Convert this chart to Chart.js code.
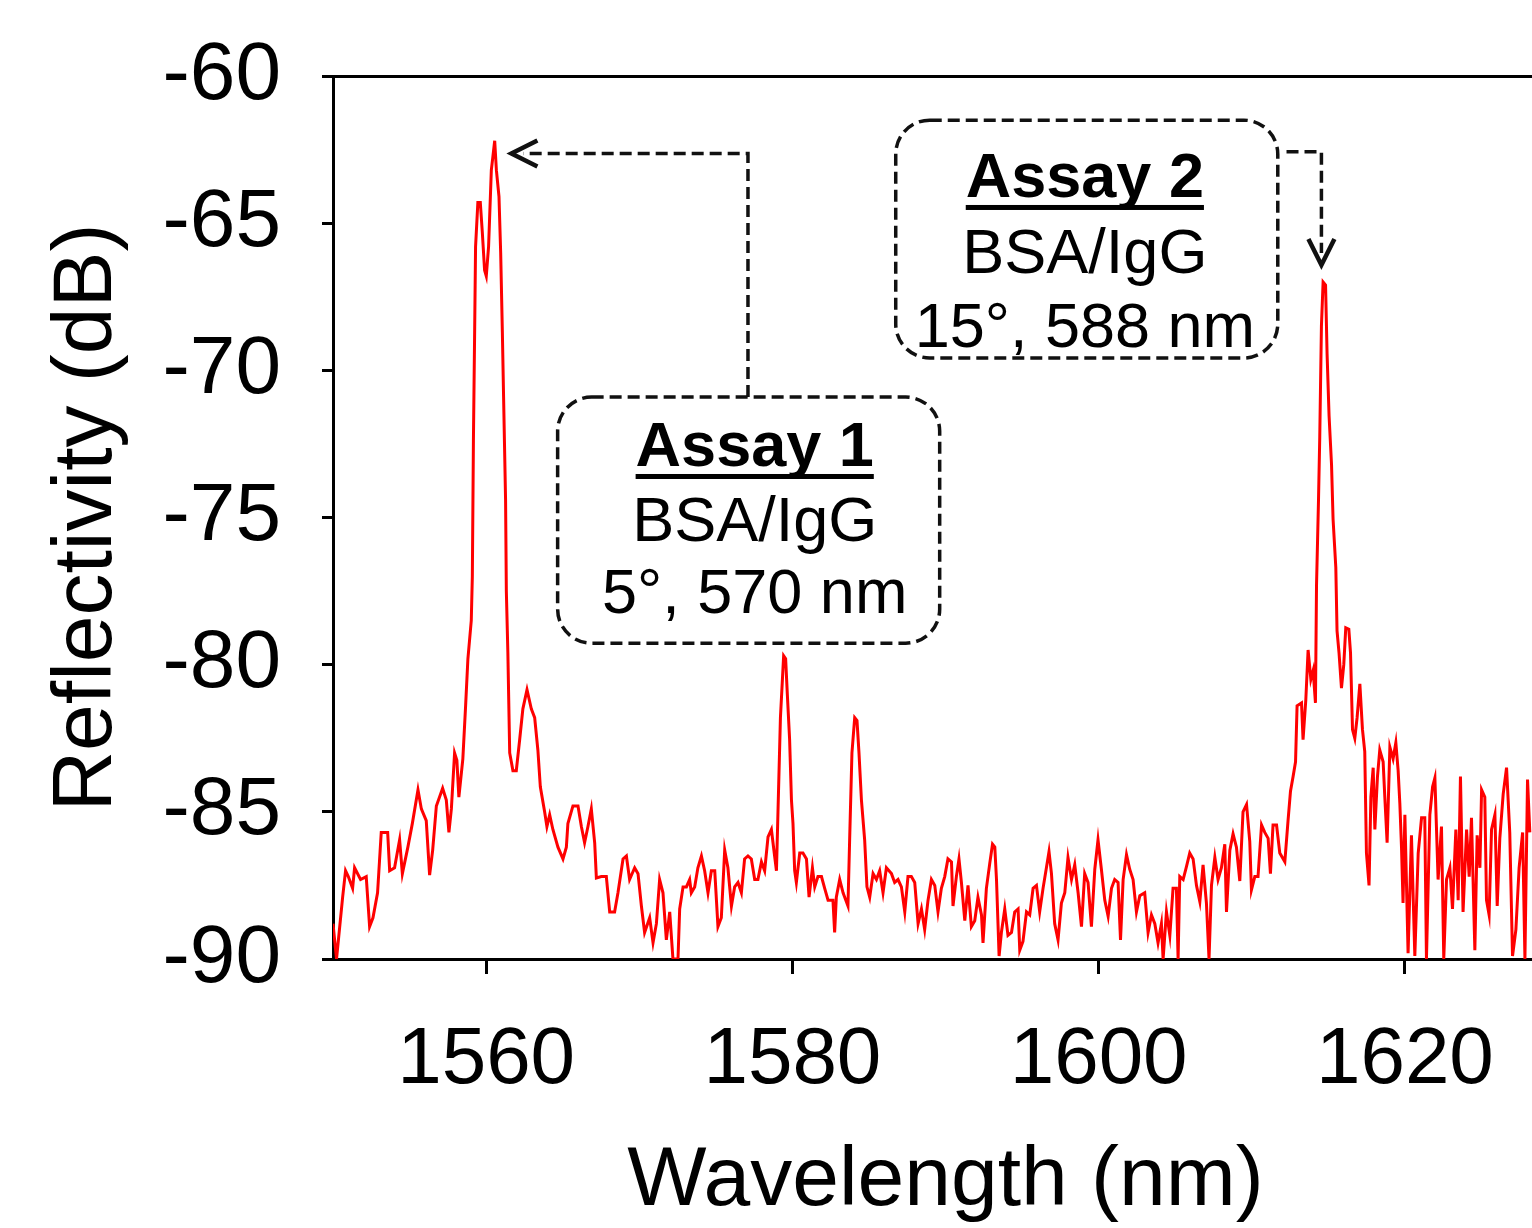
<!DOCTYPE html>
<html>
<head>
<meta charset="utf-8">
<title>Reflectivity spectrum</title>
<script src="https://cdn.jsdelivr.net/npm/chart.js@4.4.1/dist/chart.umd.min.js"></script>
<style>
  html, body { margin: 0; padding: 0; background: #fff; overflow: hidden; }
  #wrap { width: 1532px; height: 1228px; overflow: hidden; }
  canvas { display: block; }
</style>
</head>
<body>
<div id="wrap"><canvas id="spectrum" width="1558" height="1228"></canvas></div>
<script>
// wavelength (nm) / reflectivity (dB)
const wavelength = [
  1550.00, 1550.23, 1550.63, 1550.82, 1551.00, 1551.28, 1551.41, 1551.80, 1552.17, 1552.39,
  1552.61, 1552.91, 1553.15, 1553.57, 1553.70, 1554.02, 1554.35, 1554.53, 1554.89, 1555.18,
  1555.55, 1555.77, 1556.09, 1556.31, 1556.51, 1556.75, 1557.16, 1557.40, 1557.57, 1557.73,
  1557.94, 1558.09, 1558.22, 1558.48, 1558.66, 1558.81, 1559.03, 1559.10, 1559.17, 1559.25,
  1559.31, 1559.46, 1559.62, 1559.75, 1559.90, 1560.01, 1560.16, 1560.34, 1560.44, 1560.56,
  1560.67, 1560.84, 1560.95, 1561.06, 1561.14, 1561.27, 1561.32, 1561.42, 1561.54, 1561.75,
  1561.97, 1562.19, 1562.40, 1562.67, 1562.95, 1563.17, 1563.38, 1563.54, 1563.82, 1563.97,
  1564.15, 1564.36, 1564.69, 1565.02, 1565.24, 1565.34, 1565.67, 1566.00, 1566.22, 1566.43,
  1566.65, 1566.87, 1567.09, 1567.20, 1567.52, 1567.85, 1568.07, 1568.39, 1568.61, 1568.94,
  1569.16, 1569.37, 1569.70, 1569.92, 1570.14, 1570.35, 1570.68, 1570.90, 1571.12, 1571.33,
  1571.55, 1571.77, 1571.99, 1572.20, 1572.53, 1572.64, 1572.86, 1573.08, 1573.29, 1573.40,
  1573.62, 1573.83, 1574.06, 1574.27, 1574.49, 1574.71, 1574.93, 1575.14, 1575.36, 1575.58,
  1575.79, 1576.02, 1576.23, 1576.45, 1576.67, 1576.88, 1577.10, 1577.32, 1577.54, 1577.75,
  1577.98, 1578.19, 1578.41, 1578.63, 1578.84, 1578.96, 1579.06, 1579.22, 1579.35, 1579.43,
  1579.56, 1579.67, 1579.82, 1579.94, 1580.04, 1580.15, 1580.26, 1580.48, 1580.69, 1580.92,
  1581.09, 1581.31, 1581.46, 1581.67, 1581.90, 1582.11, 1582.33, 1582.65, 1582.76, 1582.87,
  1583.09, 1583.31, 1583.63, 1583.74, 1583.89, 1584.07, 1584.22, 1584.35, 1584.51, 1584.72,
  1584.87, 1585.05, 1585.27, 1585.49, 1585.70, 1585.92, 1586.14, 1586.47, 1586.68, 1586.90,
  1587.12, 1587.34, 1587.55, 1587.77, 1587.99, 1588.21, 1588.43, 1588.64, 1588.86, 1589.08,
  1589.30, 1589.51, 1589.73, 1589.95, 1590.16, 1590.39, 1590.49, 1590.71, 1590.88, 1591.04,
  1591.26, 1591.47, 1591.69, 1591.91, 1592.12, 1592.35, 1592.45, 1592.67, 1592.89, 1593.07,
  1593.22, 1593.33, 1593.50, 1593.65, 1593.87, 1594.08, 1594.31, 1594.52, 1594.74, 1594.85,
  1595.06, 1595.29, 1595.50, 1595.72, 1595.94, 1596.15, 1596.37, 1596.59, 1596.76, 1596.92,
  1597.13, 1597.35, 1597.57, 1597.79, 1598.00, 1598.23, 1598.44, 1598.66, 1598.88, 1599.09,
  1599.31, 1599.53, 1599.75, 1599.96, 1600.18, 1600.40, 1600.62, 1600.84, 1601.05, 1601.27,
  1601.43, 1601.60, 1601.82, 1602.03, 1602.25, 1602.47, 1602.69, 1603.01, 1603.23, 1603.45,
  1603.67, 1603.88, 1604.10, 1604.21, 1604.43, 1604.65, 1604.86, 1605.08, 1605.19, 1605.30,
  1605.52, 1605.74, 1605.95, 1606.17, 1606.39, 1606.61, 1606.82, 1607.04, 1607.21, 1607.37,
  1607.59, 1607.80, 1608.02, 1608.24, 1608.35, 1608.57, 1608.78, 1609.00, 1609.22, 1609.43,
  1609.66, 1609.87, 1609.98, 1610.20, 1610.41, 1610.64, 1610.85, 1611.07, 1611.22, 1611.39,
  1611.62, 1611.83, 1612.16, 1612.37, 1612.53, 1612.70, 1612.86, 1612.96, 1613.25, 1613.35,
  1613.53, 1613.68, 1613.86, 1614.01, 1614.16, 1614.23, 1614.36, 1614.44, 1614.55, 1614.66,
  1614.82, 1614.92, 1615.05, 1615.21, 1615.31, 1615.49, 1615.57, 1615.70, 1615.86, 1616.01,
  1616.14, 1616.34, 1616.45, 1616.58, 1616.73, 1616.88, 1617.06, 1617.23, 1617.38, 1617.49,
  1617.66, 1617.78, 1617.93, 1618.04, 1618.21, 1618.36, 1618.58, 1618.69, 1618.84, 1619.02,
  1619.23, 1619.41, 1619.56, 1619.67, 1619.78, 1619.88, 1620.00, 1620.21, 1620.43, 1620.65,
  1620.87, 1621.09, 1621.30, 1621.41, 1621.63, 1621.81, 1621.96, 1622.17, 1622.39, 1622.54,
  1622.72, 1622.94, 1623.11, 1623.33, 1623.48, 1623.63, 1623.80, 1624.03, 1624.20, 1624.35,
  1624.57, 1624.72, 1624.90, 1625.01, 1625.22, 1625.33, 1625.50, 1625.66, 1625.88, 1626.03,
  1626.20, 1626.42, 1626.64, 1626.85, 1627.03, 1627.25, 1627.46, 1627.69, 1627.84, 1628.01,
  1628.16
];
const reflectivity = [
  -88.8, -90.0, -87.9, -87.0, -87.2, -87.6, -86.9, -87.3, -87.2, -88.9,
  -88.6, -87.75, -85.7, -85.7, -87.0, -86.9, -85.95, -87.1, -86.2, -85.4,
  -84.25, -84.9, -85.3, -87.15, -86.3, -84.8, -84.2, -84.6, -85.7, -84.9,
  -83.0, -83.25, -84.5, -83.2, -81.4, -79.8, -78.5, -77.0, -72.4, -68.7,
  -65.8, -64.3, -64.3, -65.3, -66.6, -66.8, -65.8, -63.2, -62.75, -62.2,
  -63.2, -64.1, -66.0, -68.7, -70.9, -74.4, -77.5, -79.6, -83.0, -83.6,
  -83.6, -82.55, -81.5, -80.85, -81.5, -81.8, -82.9, -84.15, -85.0, -85.5,
  -85.1, -85.6, -86.2, -86.6, -86.2, -85.4, -84.8, -84.8, -85.5, -86.05,
  -85.5, -84.9, -86.05, -87.25, -87.2, -87.2, -88.4, -88.4, -87.75, -86.6,
  -86.5, -87.3, -86.9, -87.1, -88.2, -89.1, -88.6, -89.45, -88.8, -87.3,
  -87.75, -89.35, -88.4, -90.0, -90.0, -88.3, -87.55, -87.55, -87.3, -87.75,
  -87.55, -86.9, -86.5, -87.0, -87.75, -87.0, -87.0, -88.9, -88.6, -86.3,
  -86.9, -88.2, -87.55, -87.4, -87.75, -86.6, -86.5, -86.6, -87.3, -87.3,
  -86.7, -87.0, -85.85, -85.6, -86.5, -87.0, -85.0, -81.8, -80.5, -79.7,
  -79.8, -81.0, -82.55, -84.6, -85.4, -87.0, -87.4, -86.4, -86.4, -86.6,
  -87.9, -86.9, -87.55, -87.2, -87.2, -87.6, -88.0, -88.0, -89.1, -87.9,
  -87.3, -87.75, -88.2, -85.95, -83.0, -81.8, -81.9, -83.0, -84.6, -85.95,
  -87.55, -87.9, -87.1, -87.3, -87.0, -87.75, -86.9, -87.1, -87.4, -87.3,
  -87.55, -88.4, -87.2, -87.2, -87.4, -88.8, -88.3, -89.0, -88.0, -87.3,
  -87.5, -88.4, -87.6, -87.2, -86.6, -86.7, -88.2, -87.2, -86.6, -87.4,
  -88.7, -87.5, -88.9, -88.7, -87.9, -88.5, -89.45, -87.6, -86.75, -86.1,
  -86.2, -87.3, -89.9, -89.1, -88.3, -89.2, -89.1, -88.4, -88.3, -89.7,
  -89.4, -88.4, -88.5, -87.6, -87.5, -88.4, -87.6, -86.9, -86.35, -87.1,
  -88.8, -89.35, -88.1, -87.75, -86.55, -87.3, -86.8, -87.75, -88.9, -87.1,
  -87.4, -88.9, -86.95, -85.95, -86.95, -88.0, -88.55, -87.6, -87.3, -87.4,
  -89.35, -87.3, -86.45, -86.95, -87.3, -88.4, -87.85, -87.75, -89.1, -88.5,
  -88.8, -89.45, -88.8, -90.0, -88.4, -89.2, -87.6, -87.6, -90.0, -87.2,
  -87.3, -86.85, -86.4, -86.6, -87.5, -88.05, -86.8, -88.1, -90.0, -87.5,
  -86.55, -87.3, -86.9, -86.1, -88.4, -86.3, -85.75, -86.2, -87.35, -85.0,
  -84.75, -86.0, -87.65, -87.2, -87.2, -85.45, -85.7, -85.9, -87.1, -85.45,
  -85.45, -86.4, -86.7, -85.3, -84.3, -83.8, -83.3, -81.4, -81.3, -82.55,
  -81.2, -79.5, -80.5, -80.2, -81.3, -77.3, -74.4, -72.3, -68.5, -67.0,
  -67.1, -69.45, -71.55, -73.2, -75.05, -76.7, -78.85, -79.6, -80.8, -80.0,
  -78.75, -78.8, -79.6, -82.2, -82.5, -81.8, -80.65, -82.2, -82.95, -86.4,
  -87.5, -84.5, -83.5, -85.6, -83.8, -82.9, -83.3, -84.5, -86.05, -82.8,
  -83.2, -82.65, -83.6, -84.7, -86.2, -88.1, -85.1, -89.8, -85.8, -89.9,
  -86.4, -85.2, -85.2, -90.0, -85.1, -84.15, -83.85, -87.3, -85.5, -90.0,
  -87.3, -86.9, -88.3, -85.6, -88.0, -83.8, -88.4, -85.6, -87.2, -85.2,
  -89.7, -85.8, -86.9, -84.25, -84.5, -88.0, -88.5, -85.6, -85.1, -88.2,
  -85.9, -84.4, -83.5, -85.7, -89.9, -89.0, -86.9, -85.7, -90.0, -83.9,
  -85.7
];
const xTicks = [1560, 1580, 1600, 1620];
const yTicks = [-90, -85, -80, -75, -70, -65, -60];

const FONT = '"Liberation Sans", Arial, Helvetica, sans-serif';

// call-out boxes and arrows, placed in data units
const boxes = [
  { left: 1564.67, right: 1589.62, top: -70.91, bottom: -79.27, cx: 1577.54,
    lines: [['Assay 1', -73.25, true], ['BSA/IgG', -75.80, false], ['5°, 570 nm', -78.25, false]] },
  { left: 1586.75, right: 1611.70, top: -61.50, bottom: -69.58, cx: 1599.10,
    lines: [['Assay 2', -64.11, true], ['BSA/IgG', -66.69, false], ['15°, 588 nm', -69.21, false]] },
];
const arrows = [
  [[1577.10, -70.91], [1577.10, -62.63], [1561.65, -62.63]],
  [[1612.27, -62.57], [1614.55, -62.57], [1614.55, -66.42]],
];

const calloutPlugin = {
  id: 'callouts',
  afterDraw(chart) {
    const { ctx, scales: { x, y } } = chart;
    const px = v => x.getPixelForValue(v), py = v => y.getPixelForValue(v);
    ctx.save();
    ctx.strokeStyle = '#111';
    ctx.fillStyle = '#000';

    // dashed rounded boxes + text
    boxes.forEach(b => {
      ctx.lineWidth = 3.5;
      ctx.setLineDash([12, 6]);
      ctx.beginPath();
      ctx.roundRect(px(b.left), py(b.top), px(b.right) - px(b.left), py(b.bottom) - py(b.top), 34);
      ctx.stroke();
      ctx.setLineDash([]);
      ctx.textAlign = 'center';
      ctx.textBaseline = 'alphabetic';
      b.lines.forEach(([txt, v, bold]) => {
        ctx.font = (bold ? 'bold ' : '') + '63px ' + FONT;
        const cx = px(b.cx), by = py(v);
        ctx.fillText(txt, cx, by);
        if (bold) {
          const w = ctx.measureText(txt).width;
          ctx.fillRect(cx - w / 2, by + 8, w, 5);
        }
      });
    });

    // dashed leader lines with open heads
    arrows.forEach(a => {
      const pts = a.map(([vx, vy]) => [px(vx), py(vy)]);
      const [tx, ty] = pts[pts.length - 1];
      const [sx, sy] = pts[pts.length - 2];
      const ang = Math.atan2(ty - sy, tx - sx);
      const c = Math.cos(ang), s = Math.sin(ang);
      ctx.lineWidth = 3.5;
      ctx.setLineDash([12, 6]);
      ctx.beginPath();
      pts.forEach(([qx, qy], i) => {
        if (i === 0) ctx.moveTo(qx, qy);
        else if (i === pts.length - 1) ctx.lineTo(qx - 12 * c, qy - 12 * s);
        else ctx.lineTo(qx, qy);
      });
      ctx.stroke();
      ctx.setLineDash([]);
      ctx.lineWidth = 4.5;
      ctx.beginPath();
      ctx.moveTo(tx - 26 * c - 13 * s, ty - 26 * s + 13 * c);
      ctx.lineTo(tx, ty);
      ctx.lineTo(tx - 26 * c + 13 * s, ty - 26 * s - 13 * c);
      ctx.stroke();
    });
    ctx.restore();
  }
};

new Chart(document.getElementById('spectrum'), {
  type: 'line',
  data: {
    datasets: [{
      data: wavelength.map((w, i) => ({ x: w, y: reflectivity[i] })),
      borderColor: '#ff0000',
      borderWidth: 3,
      pointRadius: 0,
      tension: 0,
      fill: false,
    }],
  },
  options: {
    responsive: false,
    animation: false,
    layout: { padding: { top: 76, left: 0, right: 0, bottom: 0 } },
    plugins: { legend: { display: false }, tooltip: { enabled: false } },
    scales: {
      x: {
        type: 'linear', min: 1550, max: 1630,
        afterBuildTicks: s => { s.ticks = xTicks.map(v => ({ value: v })); },
        afterFit: s => { s.height = 269; s.paddingLeft = 0; s.paddingRight = 0; },
        grid: { drawOnChartArea: false, tickLength: 15, tickColor: '#000', tickWidth: 3 },
        border: { display: true, color: '#000', width: 3 },
        ticks: { color: '#000', font: { family: FONT, size: 80 }, padding: 39, maxRotation: 0, autoSkip: false,
                 callback: v => String(v) },
        title: { display: true, text: 'Wavelength (nm)', color: '#000',
                 font: { family: FONT, size: 84, lineHeight: 1 }, padding: { top: 0, bottom: 4 } },
      },
      y: {
        min: -90, max: -60,
        afterBuildTicks: s => { s.ticks = yTicks.map(v => ({ value: v })); },
        afterFit: s => { s.width = 333; s.paddingTop = 0; s.paddingBottom = 0; },
        grid: {
          color: c => (c.tick && c.tick.value === -60 ? '#000' : 'rgba(0,0,0,0)'),
          lineWidth: 3, tickLength: 11, tickColor: '#000', tickWidth: 3,
        },
        border: { display: true, color: '#000', width: 3 },
        ticks: { color: '#000', font: { family: FONT, size: 82 }, padding: 41, callback: v => String(v) },
        title: { display: true, text: 'Reflectivity (dB)', color: '#000',
                 font: { family: FONT, size: 84, lineHeight: 1 }, padding: { top: 46, bottom: 0 } },
      },
    },
  },
  plugins: [calloutPlugin],
});
</script>
</body>
</html>
